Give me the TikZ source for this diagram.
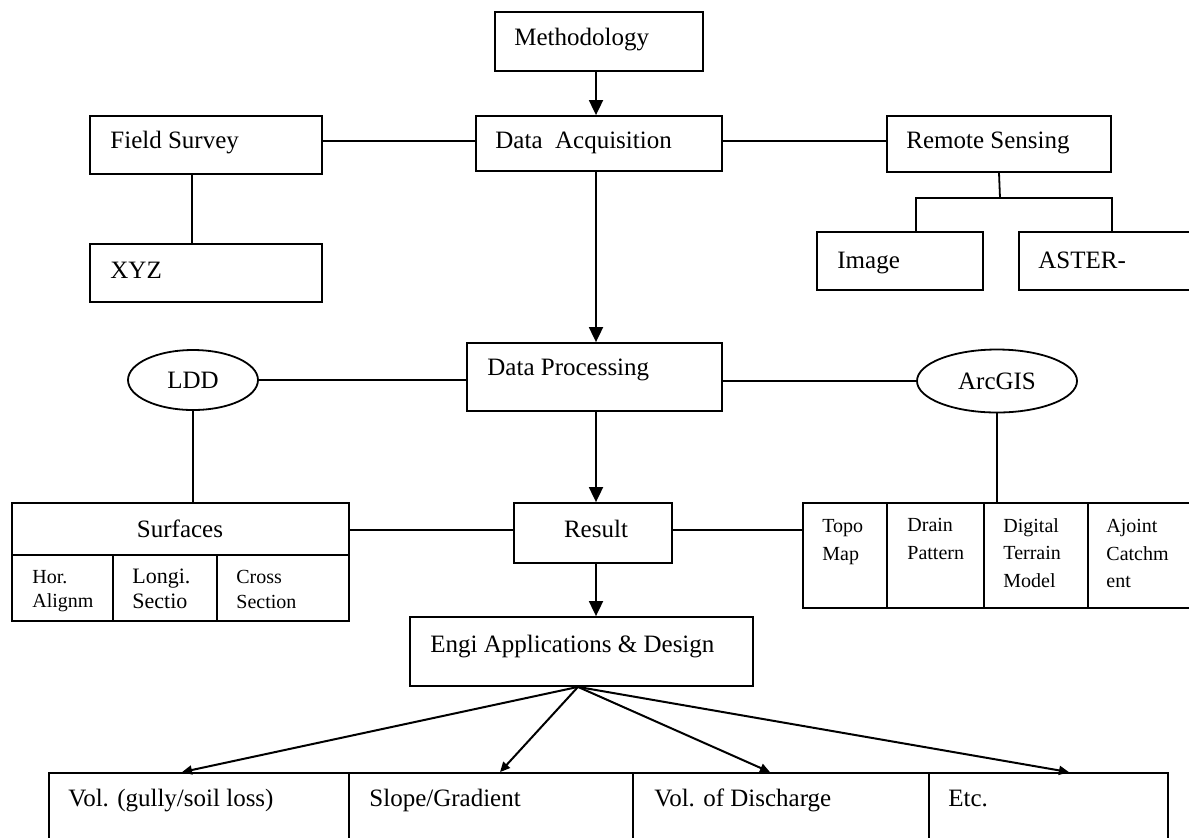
\documentclass[tikz,border=0pt]{standalone}
\usepackage{fontspec}
\setmainfont{Liberation Serif}
\usetikzlibrary{arrows.meta,shapes.geometric,fit}
\begin{document}
\begin{tikzpicture}[x=0.5pt,y=-0.5pt,
  box/.style={draw,line width=0.9pt,inner sep=0pt,rectangle},
  oval/.style={draw,line width=0.9pt,ellipse,inner sep=0pt,font=\fontsize{12.5}{15}\selectfont},
  txt/.style={inner sep=0pt,anchor=base west,font=\fontsize{12.5}{15}\selectfont},
  small/.style={inner sep=0pt,anchor=north west,align=left,font=\fontsize{10}{13.75}\selectfont},
  conn/.style={line width=0.9pt},
  arr/.style={line width=0.9pt,-{Triangle[length=7.5pt,width=7pt]}},
  farr/.style={line width=1pt,-{Triangle[length=5pt,width=4.5pt]}}]
\useasboundingbox (0,0) rectangle (1189,837);
\clip (0,0) rectangle (1189,837);

% top boxes
\node[box,fit={(495,12) (703,71)}] (meth) {};
\node[txt] (methT) at (514,45) {Methodology};
\node[box,fit={(476,116) (722,171)}] (da) {};
\node[txt] (daT) at (495,148) {Data\ \ Acquisition};
\node[box,fit={(90,116) (322,174)}] (fs) {};
\node[txt] (fsT) at (110,148) {Field Survey};
\node[box,fit={(887,116) (1111,172)}] (rs) {};
\node[txt] (rsT) at (906,148) {Remote Sensing};
\node[box,fit={(90,244) (322,302)}] (xyz) {};
\node[txt] (xyzT) at (110,278) {XYZ};
\node[box,fit={(817,232) (983,290)}] (img) {};
\node[txt] (imgT) at (837,268) {Image};
\node[box,fit={(1019,232) (1205,290)}] (ast) {};
\node[txt] (astT) at (1038,268) {ASTER-};

% processing row
\node[box,fit={(467,343) (722,411)}] (dp) {};
\node[txt] (dpT) at (487,375) {Data Processing};
\node[oval,minimum width=65pt,minimum height=30pt] (ldd) at (193,380) {LDD};
\node[oval,minimum width=80pt,minimum height=31.5pt] (arc) at (997,381) {ArcGIS};

% result row
\node[box,fit={(514,503) (672,563)}] (res) {};
\node[txt,anchor=base] (resT) at (596,537) {Result};

\node[box,fit={(12,503) (349,621)}] (surf) {};
\draw[conn] (12,555) -- (349,555);
\draw[conn] (113,555) -- (113,621);
\draw[conn] (217,555) -- (217,621);
\node[txt,anchor=base] (surfT) at (180,537) {Surfaces};
\node[small,font=\fontsize{10}{12}\selectfont] (horT) at (32,570) {Hor.\\Alignm};
\node[small,font=\fontsize{11}{12.5}\selectfont] (lonT) at (132,569) {Longi.\\Sectio};
\node[small,font=\fontsize{10}{12.5}\selectfont] (croT) at (236,570) {Cross\\Section};

\node[box,fit={(803,503) (1205,608)}] (tbl) {};
\draw[conn] (887,503) -- (887,608);
\draw[conn] (984,503) -- (984,608);
\draw[conn] (1088,503) -- (1088,608);
\node[small] (topoT) at (822,519) {Topo\\Map};
\node[small] (drT) at (907,518) {Drain\\Pattern};
\node[small] (dtmT) at (1003,518) {Digital\\Terrain\\Model};
\node[small] (ajT) at (1106,519) {Ajoint\\Catchm\\ent};

% engineering
\node[box,fit={(410,617) (753,686)}] (engi) {};
\node[txt] (engiT) at (430,652) {Engi Applications \& Design};

\node[box,fit={(49,773) (349,860)}] (c1) {};
\node[box,fit={(349,773) (633,860)}] (c2) {};
\node[box,fit={(633,773) (929,860)}] (c3) {};
\node[box,fit={(929,773) (1168,860)}] (c4) {};
\node[txt] (c1T) at (68,806) {Vol. (gully/soil loss)};
\node[txt] (c2T) at (369,806) {Slope/Gradient};
\node[txt] (c3T) at (654,806) {Vol. of Discharge};
\node[txt] (c4T) at (948,806) {Etc.};

% connectors
\draw[arr] ([xshift=-1.5pt]meth.south) -- ([xshift=-1.5pt]da.north);
\draw[conn] ([yshift=1.25pt]da.west) -- ([yshift=1.25pt]da.west -| fs.east);
\draw[conn] ([yshift=1.25pt]da.east) -- ([yshift=1.25pt]da.east -| rs.west);
\draw[conn] ([xshift=-7pt]fs.south) -- ([xshift=-7pt]xyz.north);
\coordinate (rsj) at (1000,198);
\draw[conn] (rs.south) -- (rsj);
\draw[conn] ([xshift=8pt]img.north) |- (rsj) -| (ast.north);
\draw[arr] ([xshift=-1.5pt]da.south) -- ([xshift=-1.5pt]da.south |- dp.north);
\draw[conn] (ldd.east) -- (ldd.east -| dp.west);
\draw[conn] (arc.west) -- (arc.west -| dp.east);
\draw[conn] (ldd.south) -- (ldd.south |- surf.north);
\draw[conn] (arc.south) -- (arc.south |- tbl.north);
\draw[arr] ([xshift=0.75pt]dp.south) -- ([xshift=0.75pt]dp.south |- res.north);
\draw[conn] ([yshift=1.5pt]res.west) -- ([yshift=1.5pt]res.west -| surf.east);
\draw[conn] ([yshift=1.5pt]res.east) -- ([yshift=1.5pt]res.east -| tbl.west);
\draw[arr] ([xshift=1.5pt]res.south) -- ([xshift=1.5pt]res.south |- engi.north);
\coordinate (eo) at ([xshift=-1.75pt]engi.south);
\draw[farr] (eo) -- ([xshift=-8.5pt]c1.north);
\draw[farr] (eo) -- ([xshift=4.5pt]c2.north);
\draw[farr] (eo) -- ([xshift=-5.5pt]c3.north);
\draw[farr] (eo) -- ([xshift=10.25pt]c4.north);
\end{tikzpicture}
\end{document}
